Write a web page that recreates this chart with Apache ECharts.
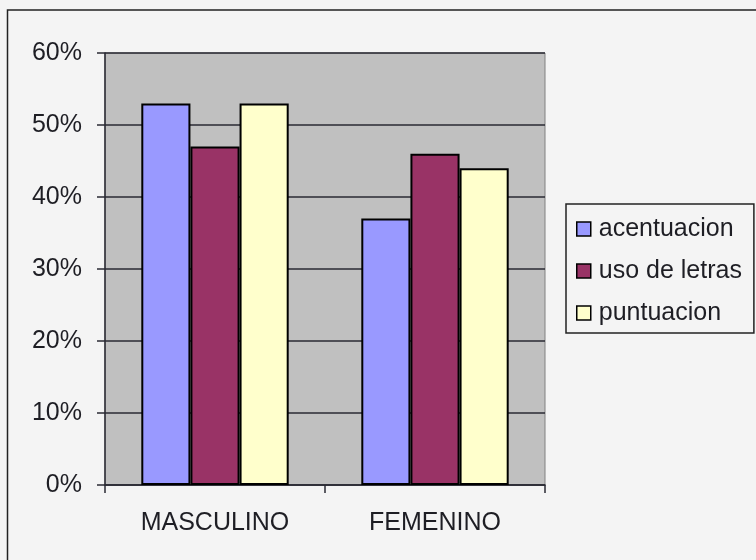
<!DOCTYPE html>
<html>
<head>
<meta charset="utf-8">
<script src="https://cdn.jsdelivr.net/npm/echarts@6/dist/echarts.min.js"></script>
<style>
  html, body { margin: 0; padding: 0; background: #F4F4F4; }
  #chart { width: 756px; height: 560px; }
</style>
</head>
<body>
<div id="chart"></div>
<script>
const categories = ['MASCULINO', 'FEMENINO'];
const acentuacion = [53, 37];
const usoDeLetras = [47, 46];
const puntuacion = [53, 44];
const yTicks = [0, 10, 20, 30, 40, 50, 60];

const FONT = "'Liberation Sans', Arial, sans-serif";
const TXT = '#1e1e24';
const LINE = '#2a2a33';

const chart = echarts.init(document.getElementById('chart'), null, { renderer: 'canvas' });

function bar(name, data, color) {
  return {
    name: name,
    type: 'bar',
    data: data,
    barGap: '0%',
    barCategoryGap: '33%',
    itemStyle: { color: color, borderColor: '#000', borderWidth: 2 },
    emphasis: { disabled: true }
  };
}

chart.setOption({
  animation: false,
  backgroundColor: '#F4F4F4',
  textStyle: { fontFamily: FONT, color: TXT },
  graphic: [{
    type: 'rect',
    shape: { x: 7.5, y: 10, width: 900, height: 700 },
    style: { fill: 'none', stroke: '#222', lineWidth: 1.5 },
    silent: true,
    z: 100
  }],
  grid: {
    left: 105, top: 53, width: 440, height: 432,
    show: true, backgroundColor: '#C0C0C0', borderColor: '#808080', borderWidth: 1
  },
  legend: {
    orient: 'vertical',
    left: 566, top: 204,
    padding: [11, 12, 6, 10],
    itemGap: 14,
    itemWidth: 14, itemHeight: 14,
    icon: 'rect',
    backgroundColor: '#F4F4F4',
    borderColor: '#222', borderWidth: 1.5,
    itemStyle: { borderColor: '#000', borderWidth: 1.5 },
    textStyle: { fontFamily: FONT, fontSize: 25, color: TXT, lineHeight: 28, padding: [0, 0, 0, 3] },
    selectedMode: false
  },
  xAxis: {
    type: 'category',
    data: categories,
    axisLine: { lineStyle: { color: LINE, width: 1.5 } },
    axisTick: { show: true, length: 8, inside: false, lineStyle: { color: LINE, width: 1.5 } },
    axisLabel: { fontFamily: FONT, fontSize: 25, color: TXT, margin: 26 },
    splitLine: { show: false }
  },
  yAxis: {
    type: 'value',
    min: yTicks[0], max: yTicks[yTicks.length - 1], interval: 10,
    axisLine: { show: true, lineStyle: { color: LINE, width: 1.5 } },
    axisTick: { show: true, length: 8, lineStyle: { color: LINE, width: 1.5 } },
    axisLabel: { fontFamily: FONT, fontSize: 25, color: TXT, margin: 23, formatter: '{value}%' },
    splitLine: { show: true, lineStyle: { color: LINE, width: 1.5 } }
  },
  series: [
    bar('acentuacion', acentuacion, '#9999FF'),
    bar('uso de letras', usoDeLetras, '#993366'),
    bar('puntuacion', puntuacion, '#FFFFCC')
  ]
});
</script>
</body>
</html>
